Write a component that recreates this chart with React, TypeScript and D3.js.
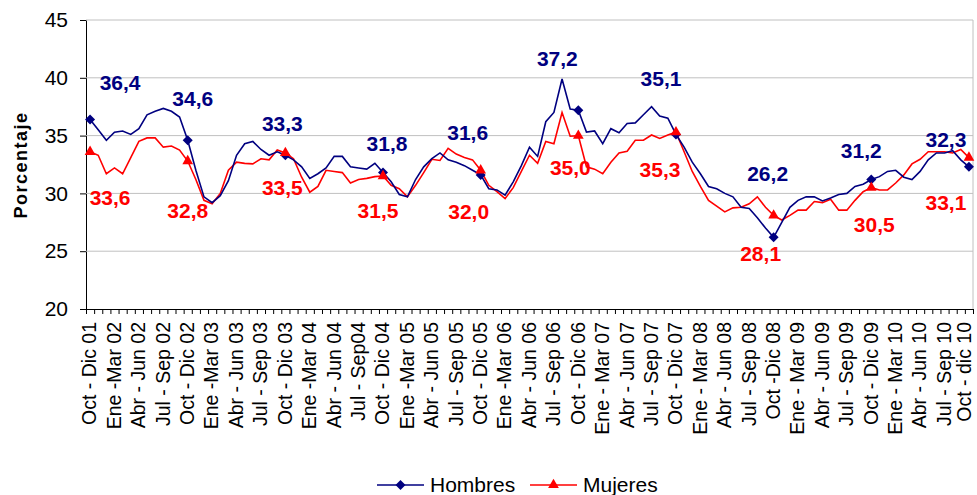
import React, { useEffect, useRef } from "react";
import * as d3 from "d3";

// monthly rolling quarters, Oct-Dic 01 .. Oct-Dic 10 (109 points)
const hombres = [
  36.4, 35.5, 34.6, 35.3, 35.4, 35.1, 35.6, 36.8, 37.1, 37.35, 37.1, 36.6,
  34.6, 32.0, 29.7, 29.2, 29.8, 31.1, 33.3, 34.3, 34.5, 33.8, 33.3, 33.6,
  33.3, 32.9, 32.3, 31.3, 31.7, 32.2, 33.2, 33.2, 32.3, 32.2, 32.1, 32.6,
  31.8, 31.0, 29.9, 29.7, 31.2, 32.3, 33.0, 33.5, 32.9, 32.7, 32.4, 32.0,
  31.6, 30.4, 30.3, 29.85, 31.0, 32.4, 34.0, 33.2, 36.2, 37.0, 39.9, 37.3,
  37.2, 35.3, 35.4, 34.3, 35.6, 35.25, 36.05, 36.1, 36.8, 37.5, 36.7, 36.5,
  35.1, 34.0, 32.7, 31.7, 30.6, 30.4, 30.0, 29.7, 28.8, 28.7, 27.9, 27.0,
  26.2, 27.5, 28.8, 29.4, 29.7, 29.7, 29.35, 29.6, 29.9, 30.0, 30.6, 30.8,
  31.2, 31.45, 31.9, 32.0, 31.4, 31.2, 31.9, 32.9, 33.5, 33.5, 33.7, 32.9,
  32.3,
];

const mujeres = [
  33.6, 33.3, 31.7, 32.2, 31.7, 33.1, 34.5, 34.8, 34.8, 34.0, 34.1, 33.75,
  32.8, 31.2, 29.4, 29.1, 30.0, 32.0, 32.7, 32.6, 32.55, 33.0, 32.9, 33.75,
  33.5, 33.0, 31.4, 30.1, 30.6, 32.0, 31.9, 31.8, 30.9, 31.2, 31.3, 31.45,
  31.5, 30.7, 30.4, 29.7, 30.7, 31.8, 32.95, 32.85, 33.9, 33.4, 33.1, 32.9,
  32.0, 30.7, 30.15, 29.55, 30.5, 31.9, 33.3, 32.6, 34.5, 34.3, 37.0, 34.95,
  35.0, 32.3, 32.1, 31.7, 32.7, 33.5, 33.65, 34.6, 34.6, 35.05, 34.75, 35.05,
  35.3, 33.6, 31.9, 30.6, 29.4, 28.9, 28.4, 28.75, 28.8, 29.1, 29.7, 28.8,
  28.1, 27.7, 28.1, 28.55, 28.55, 29.3, 29.2, 29.5, 28.55, 28.55, 29.4, 30.15,
  30.5, 30.3, 30.3, 30.9, 31.6, 32.55, 32.95, 33.6, 33.6, 33.6, 33.5, 33.8,
  33.1,
];

const quarterLabels = [
  "Oct - Dic 01", "Ene -Mar 02", "Abr - Jun 02", "Jul - Sep 02",
  "Oct - Dic 02", "Ene -Mar 03", "Abr - Jun 03", "Jul - Sep 03",
  "Oct - Dic 03", "Ene -Mar 04", "Abr - Jun 04", "Jul - Sep04",
  "Oct - Dic 04", "Ene -Mar 05", "Abr - Jun 05", "Jul - Sep 05",
  "Oct - Dic 05", "Ene -Mar 06", "Abr - Jun 06", "Jul - Sep 06",
  "Oct - Dic 06", "Ene - Mar 07", "Abr - Jun 07", "Jul - Sep 07",
  "Oct - Dic 07", "Ene - Mar 08", "Abr - Jun 08", "Jul - Sep 08",
  "Oct -Dic 08", "Ene - Mar 09", "Abr - Jun 09", "Jul - Sep 09",
  "Oct - Dic 09", "Ene - Mar 10", "Abr - Jun 10", "Jul - Sep 10",
  "Oct - dic 10",
];

// annual points that carry a marker and a value label
const markedIdx = [0, 12, 24, 36, 48, 60, 72, 84, 96, 108];
const hombresLabels = ["36,4", "34,6", "33,3", "31,8", "31,6", "37,2", "35,1", "26,2", "31,2", "32,3"];
const mujeresLabels = ["33,6", "32,8", "33,5", "31,5", "32,0", "35,0", "35,3", "28,1", "30,5", "33,1"];

// label offsets (dx, dy of baseline) from the marker, as placed in the original
const hombresOffsets = [[30, -29], [5, -34], [-3, -24], [4, -22], [-13, -35], [-21, -44], [-15, -48], [-6, -56], [-10, -22], [-23, -20]];
const mujeresOffsets = [[20, 53], [0, 57], [-3, 42], [-5, 42], [-12, 49], [-8, 39], [-16, 45], [-13, 46], [3, 44], [-23, 52]];

const yTicks = [20, 25, 30, 35, 40, 45];

const FONT = "'Liberation Sans', Arial, sans-serif";
const NAVY = "#000080";
const RED = "#FF0000";

export default function App() {
  const ref = useRef<SVGSVGElement>(null);

  useEffect(() => {
    const width = 977;
    const height = 495;
    const left = 86;
    const right = 973;
    const top = 20;
    const bottom = 309;

    const svg = d3.select(ref.current);
    svg.selectAll("*").remove();
    svg.attr("width", width).attr("height", height);

    const idx = d3.range(hombres.length);
    const x = d3.scalePoint<number>().domain(idx).range([left, right]).padding(0.5);
    const xEdge = d3.scaleLinear().domain([-0.5, idx.length - 0.5]).range([left, right]);
    const y = d3.scaleLinear().domain([20, 45]).range([bottom, top]);

    // gridlines + y axis
    const yAxisG = svg
      .append("g")
      .attr("transform", `translate(${left},0)`)
      .call(d3.axisLeft(y).tickValues(yTicks).tickSize(6).tickPadding(12));
    yAxisG.select(".domain").attr("stroke", "#000");
    yAxisG
      .selectAll("text")
      .attr("font-family", FONT)
      .attr("font-size", 21)
      .attr("fill", "#000");

    svg
      .append("g")
      .selectAll("line")
      .data(yTicks.filter((t) => t > 20))
      .enter()
      .append("line")
      .attr("x1", left)
      .attr("x2", right)
      .attr("y1", (d) => y(d))
      .attr("y2", (d) => y(d))
      .attr("stroke", "#c0c0c0")
      .attr("stroke-width", 1);

    // right border of plot area
    svg
      .append("line")
      .attr("x1", right)
      .attr("x2", right)
      .attr("y1", top)
      .attr("y2", bottom)
      .attr("stroke", "#c0c0c0");

    // x axis: monthly tick marks between categories
    const xTickG = svg
      .append("g")
      .attr("transform", `translate(0,${bottom})`)
      .call(
        d3
          .axisBottom(xEdge)
          .tickValues(d3.range(-0.5, idx.length, 1))
          .tickSize(5)
          .tickSizeOuter(0)
          .tickFormat(() => "")
      );
    xTickG.selectAll("line").attr("stroke", "#000");
    xTickG.select(".domain").attr("stroke", "#000");

    // x labels every quarter
    const labelTicks = idx.filter((i) => i % 3 === 0);
    const lastTick = labelTicks[labelTicks.length - 1];
    const xLabelG = svg
      .append("g")
      .attr("transform", `translate(0,${bottom})`)
      .call(
        d3
          .axisBottom(x)
          .tickValues(labelTicks)
          .tickSize(0)
          .tickFormat((d) => quarterLabels[(d as number) / 3])
      );
    xLabelG.select(".domain").remove();
    xLabelG
      .selectAll("text")
      .attr("font-family", FONT)
      .attr("font-size", 19.5)
      .attr("fill", "#000")
      .attr("transform", "rotate(-90)")
      .attr("x", -13)
      .attr("y", 0)
      .attr("dy", (d) => ((d as number) === lastTick ? "0.1em" : "0.3em"))
      .style("text-anchor", "end");

    // y axis title
    svg
      .append("text")
      .attr("transform", `translate(27,165) rotate(-90)`)
      .attr("text-anchor", "middle")
      .attr("font-family", FONT)
      .attr("font-weight", "bold")
      .attr("font-size", 18)
      .attr("letter-spacing", 1.5)
      .text("Porcentaje");

    // lines
    const line = d3
      .line<number>()
      .x((_, i) => x(i) as number)
      .y((d) => y(d));

    svg
      .append("path")
      .datum(mujeres)
      .attr("fill", "none")
      .attr("stroke", RED)
      .attr("stroke-width", 1.6)
      .attr("d", line);

    svg
      .append("path")
      .datum(hombres)
      .attr("fill", "none")
      .attr("stroke", NAVY)
      .attr("stroke-width", 1.6)
      .attr("d", line);

    const diamond = d3.symbol().type(d3.symbolDiamond2).size(64);
    const triangle = d3.symbol().type(d3.symbolTriangle).size(50);

    svg
      .append("g")
      .selectAll("path")
      .data(markedIdx)
      .enter()
      .append("path")
      .attr("d", diamond)
      .attr("fill", NAVY)
      .attr("transform", (i) => `translate(${x(i)},${y(hombres[i])})`);

    svg
      .append("g")
      .selectAll("path")
      .data(markedIdx)
      .enter()
      .append("path")
      .attr("d", triangle)
      .attr("fill", RED)
      .attr("transform", (i) => `translate(${x(i)},${y(mujeres[i])})`);

    // value labels
    const addLabels = (vals: number[], texts: string[], offs: number[][], color: string) =>
      svg
        .append("g")
        .selectAll("text")
        .data(markedIdx)
        .enter()
        .append("text")
        .attr("x", (i, k) => (x(i) as number) + offs[k][0])
        .attr("y", (i, k) => y(vals[i]) + offs[k][1])
        .attr("text-anchor", "middle")
        .attr("font-family", FONT)
        .attr("font-weight", "bold")
        .attr("font-size", 21)
        .attr("fill", color)
        .text((_, k) => texts[k]);

    addLabels(hombres, hombresLabels, hombresOffsets, NAVY);
    addLabels(mujeres, mujeresLabels, mujeresOffsets, RED);

    // legend
    const legend = [
      { name: "Hombres", color: NAVY, symbol: diamond, x0: 377 },
      { name: "Mujeres", color: RED, symbol: triangle, x0: 530 },
    ];
    const lg = svg
      .append("g")
      .selectAll("g")
      .data(legend)
      .enter()
      .append("g")
      .attr("transform", (d) => `translate(${d.x0},485)`);
    lg.append("line")
      .attr("x1", 0)
      .attr("x2", 47)
      .attr("stroke", (d) => d.color)
      .attr("stroke-width", 1.6);
    lg.append("path")
      .attr("d", (d) => d.symbol())
      .attr("transform", "translate(23.5,0)")
      .attr("fill", (d) => d.color);
    lg.append("text")
      .attr("x", 53)
      .attr("y", 7)
      .attr("font-family", FONT)
      .attr("font-size", 21)
      .attr("fill", "#000")
      .text((d) => d.name);
  }, []);

  return (
    <svg
      ref={ref}
      style={{ position: "absolute", left: 0, top: 0, display: "block", background: "#fff" }}
    />
  );
}
